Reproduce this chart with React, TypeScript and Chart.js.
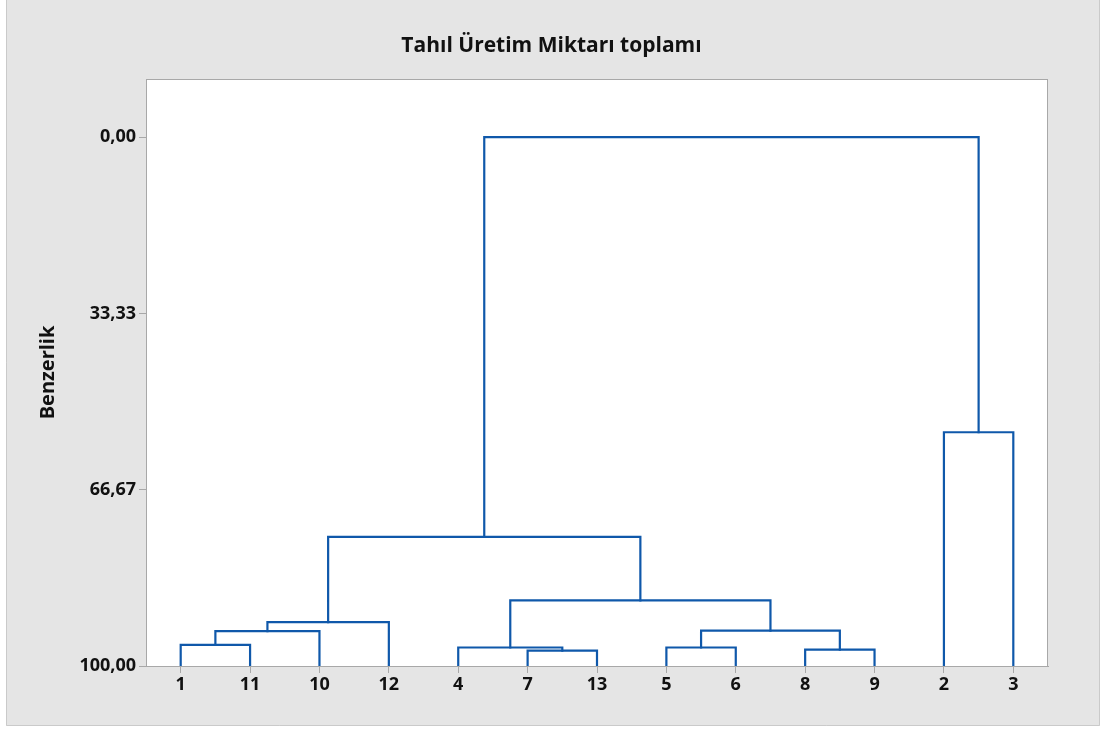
import React, { useEffect, useRef } from 'react';
import { Chart, registerables } from 'chart.js';

Chart.register(...registerables);

// Leaves in dendrogram order (x positions 1..13)
const leafLabels = ['1', '11', '10', '12', '4', '7', '13', '5', '6', '8', '9', '2', '3'];
// Merge steps: node ids 0..12 are leaves (by position), each merge creates node 13 + step
const mergeFirst = [0, 13, 14, 5, 4, 7, 9, 18, 17, 15, 11, 22];
const mergeSecond = [1, 2, 3, 6, 16, 8, 10, 19, 20, 21, 12, 23];
const mergeSimilarity = [96.0, 93.4, 91.7, 97.1, 96.5, 96.5, 96.9, 93.3, 87.6, 75.6, 55.8, 0.0];
const yTickValues = [0, 33.33, 66.67, 100];
const yTickLabels = ['0,00', '33,33', '66,67', '100,00'];

const TITLE = 'Tahıl Üretim Miktarı toplamı';
const Y_TITLE = 'Benzerlik';
const LINE_COLOR = '#0f58aa';
const FONT = '"Open Sans", "Noto Sans", sans-serif';

function buildDatasets() {
  const nodeX: number[] = leafLabels.map((_, i) => i + 1);
  const nodeY: number[] = leafLabels.map(() => 100);
  const sets: any[] = [];
  mergeFirst.forEach((a, k) => {
    const b = mergeSecond[k];
    const s = mergeSimilarity[k];
    sets.push({
      data: [
        { x: nodeX[a], y: nodeY[a] },
        { x: nodeX[a], y: s },
        { x: nodeX[b], y: s },
        { x: nodeX[b], y: nodeY[b] },
      ],
      showLine: true,
      borderColor: LINE_COLOR,
      backgroundColor: LINE_COLOR,
      borderWidth: 2.2,
      pointRadius: 0,
      pointHoverRadius: 0,
      tension: 0,
      borderCapStyle: 'square',
      borderJoinStyle: 'miter',
    });
    nodeX.push((nodeX[a] + nodeX[b]) / 2);
    nodeY.push(s);
  });
  return sets;
}

const framePlugin = {
  id: 'frame',
  beforeDraw(chart: any) {
    const { ctx, chartArea } = chart;
    ctx.save();
    ctx.fillStyle = '#ffffff';
    ctx.fillRect(0, 0, chart.width, chart.height);
    ctx.fillStyle = '#e5e5e5';
    ctx.fillRect(6, 0, 1094, 726);
    ctx.strokeStyle = '#cacaca';
    ctx.lineWidth = 1;
    ctx.beginPath();
    ctx.moveTo(6.5, 0);
    ctx.lineTo(6.5, 725.5);
    ctx.lineTo(1099.5, 725.5);
    ctx.lineTo(1099.5, 0);
    ctx.stroke();
    ctx.fillStyle = '#ffffff';
    ctx.fillRect(chartArea.left, chartArea.top, chartArea.right - chartArea.left, chartArea.bottom - chartArea.top);
    ctx.restore();
  },
  afterDraw(chart: any) {
    const { ctx, chartArea } = chart;
    ctx.save();
    ctx.strokeStyle = '#a8a8a8';
    ctx.lineWidth = 1;
    ctx.strokeRect(chartArea.left + 0.5, chartArea.top + 0.5, chartArea.right - chartArea.left - 1, chartArea.bottom - chartArea.top);
    ctx.restore();
  },
};

export default function App() {
  const ref = useRef<HTMLCanvasElement | null>(null);
  useEffect(() => {
    if (!ref.current) return;
    const tickFont = { family: FONT, size: 18, weight: 'bold' as const };
    const chart = new Chart(ref.current, {
      type: 'scatter',
      data: { datasets: buildDatasets() },
      plugins: [framePlugin],
      options: {
        responsive: false,
        animation: false,
        events: [],
        layout: { padding: 0 },
        plugins: {
          legend: { display: false },
          tooltip: { enabled: false },
          title: {
            display: true,
            text: TITLE,
            color: '#111111',
            font: { family: FONT, size: 21, weight: 'bold', lineHeight: 1.2 },
            padding: { top: 33.4, bottom: 20.4 },
          },
        },
        scales: {
          x: {
            type: 'linear',
            min: 0.5,
            max: 13.5,
            afterBuildTicks: (s: any) => {
              s.ticks = leafLabels.map((_, i) => ({ value: i + 1 }));
            },
            afterFit: (s: any) => {
              s.height = 65;
            },
            ticks: {
              autoSkip: false,
              maxRotation: 0,
              padding: 1,
              color: '#111111',
              font: tickFont,
              callback: (_v: any, i: number) => leafLabels[i],
            },
            grid: { display: true, drawOnChartArea: false, drawTicks: true, tickLength: 7, color: '#a8a8a8' },
            border: { display: true, color: '#a8a8a8' },
          },
          y: {
            type: 'linear',
            reverse: true,
            min: -11,
            max: 100,
            afterBuildTicks: (s: any) => {
              s.ticks = yTickValues.map((v) => ({ value: v }));
            },
            afterFit: (s: any) => {
              s.width = 146;
            },
            ticks: {
              autoSkip: false,
              padding: 3,
              color: '#111111',
              font: tickFont,
              callback: (_v: any, i: number) => yTickLabels[i],
            },
            grid: { display: true, drawOnChartArea: false, drawTicks: true, tickLength: 7, color: '#a8a8a8' },
            border: { display: true, color: '#a8a8a8' },
            title: {
              display: true,
              text: Y_TITLE,
              color: '#111111',
              font: { family: FONT, size: 20, weight: 'bold', lineHeight: 1.2 },
              padding: { top: 36, bottom: 0 },
            },
          },
          yRight: {
            type: 'linear',
            position: 'right',
            min: 0,
            max: 1,
            display: true,
            afterFit: (s: any) => {
              s.width = 55;
            },
            ticks: { display: false },
            grid: { display: false },
            border: { display: false },
          },
        },
      },
    });
    return () => chart.destroy();
  }, []);
  return (
    <div style={{ position: 'absolute', left: 0, top: 0, width: 1103, height: 731 }}>
      <canvas ref={ref} width={1103} height={731} style={{ display: 'block' }} />
    </div>
  );
}
